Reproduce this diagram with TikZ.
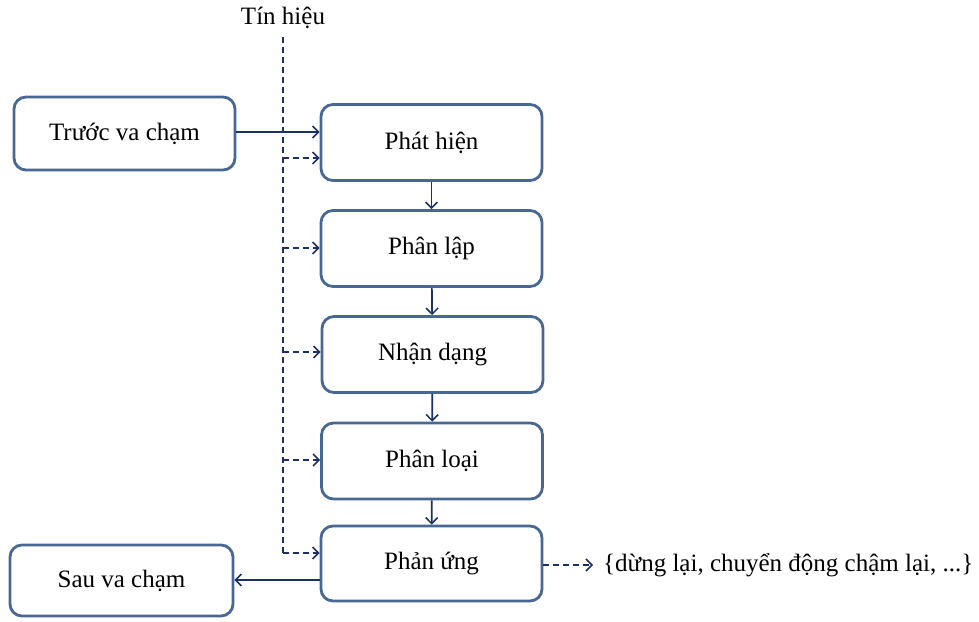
\documentclass[tikz,border=0pt]{standalone}
\usepackage{fontspec}
\setmainfont{Liberation Serif}
\usetikzlibrary{arrows.meta}
\definecolor{boxblue}{RGB}{72,104,146}
\definecolor{navy}{RGB}{28,48,100}
\tikzset{>={Straight Barb[length=6pt,width=12pt,line width=1.5pt]}}
\tikzset{
  stage/.style={draw=boxblue,line width=2.8pt,rounded corners=12pt,fill=white,
    minimum width=221pt,minimum height=76pt,inner sep=0pt,
    font=\fontsize{25}{29}\selectfont},
  flow/.style={->,draw=navy,line width=1.7pt},
  sig/.style={->,draw=navy,line width=1.8pt,dash pattern=on 6pt off 4pt}
}
\begin{document}
\begin{tikzpicture}[x=1pt,y=-1pt]
    \useasboundingbox (0,0) rectangle (979,621);
    % khoi ben trai
    \node[stage,minimum height=73pt] (truoc) at (124.5,133.5) {Trước va chạm};
    \node[stage,minimum width=223pt,minimum height=71pt] (sau) at (121.5,580.5) {Sau va chạm};
    % cot xu ly
    \node[stage] (phathien) at (431.5,142.5) {Phát hiện};
    \node[stage] (phanlap) at (431.5,248.5) {Phân lập};
    \node[stage] (nhandang) at (432.5,354.5) {Nhận dạng};
    \node[stage] (phanloai) at (432,461) {Phân loại};
    \node[stage,minimum height=75pt] (phanung) at (431.5,563.5) {Phản ứng};
    \node[font=\fontsize{25}{29}\selectfont] (tinhieu) at (283,18) {Tín hiệu};
    \node[anchor=west,font=\fontsize{25}{29}\selectfont,inner sep=0pt] (ketqua) at (603,565)
        {\{dừng lại, chuyển động chậm lại, ...\}};
    % duong tin hieu
    \coordinate (sigtop) at (283,37);
    \coordinate (sig1) at (283,158);
    \coordinate (sig2) at (283,248);
    \coordinate (sig3) at (283,352);
    \coordinate (sig4) at (283,460);
    \coordinate (sig5) at (283,553);
    \draw[navy,line width=1.8pt,dash pattern=on 6pt off 4pt] (sigtop) -- (sig5);
    \draw[sig] (sig1) -- (sig1 -| phathien.west);
    \draw[sig] (sig2) -- (sig2 -| phanlap.west);
    \draw[sig] (sig3) -- (sig3 -| nhandang.west);
    \draw[sig] (sig4) -- (sig4 -| phanloai.west);
    \draw[sig] (sig5) -- (sig5 -| phanung.west);
    % luong chinh
    \draw[flow,line width=1.1pt] (truoc.east |- 0,132) -- (phathien.west |- 0,132);
    \draw[flow] (phathien) -- (phanlap);
    \draw[flow] (phanlap) -- (nhandang);
    \draw[flow] (nhandang) -- (phanloai);
    \draw[flow] (phanloai) -- (phanung);
    \draw[flow,line width=2.2pt] (phanung.west |- 0,580) -- (sau.east |- 0,580);
    \draw[sig] (phanung.east |- ketqua.west) -- ([xshift=-10pt]ketqua.west);
\end{tikzpicture}
\end{document}
